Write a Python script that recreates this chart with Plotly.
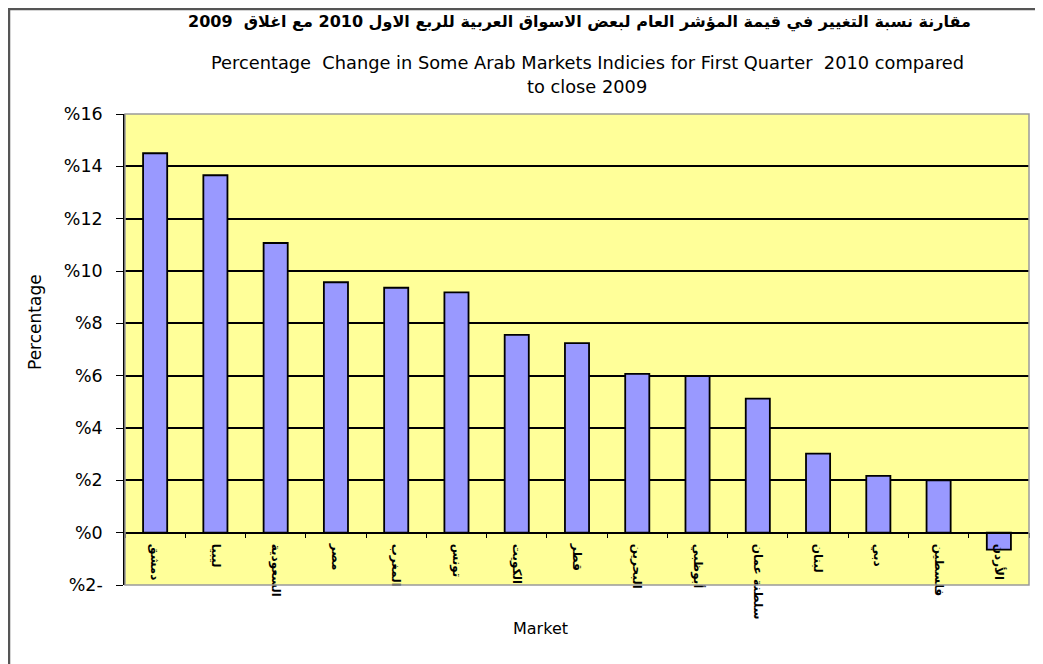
import plotly.graph_objects as go

markets = ["دمشق", "ليبيا", "السعودية", "مصر", "المغرب", "تونس", "الكويت", "قطر",
           "البحرين", "أبوظبي", "سلطنة عمان", "لبنان", "دبي", "فلسطين", "الأردن"]
pct_change = [14.5, 13.66, 11.07, 9.57, 9.36, 9.18, 7.56, 7.24,
              6.07, 5.98, 5.12, 3.02, 2.17, 2.0, -0.65]
y_tick_vals = [-2, 0, 2, 4, 6, 8, 10, 12, 14, 16]
y_tick_text = ["%2-", "%0", "%2", "%4", "%6", "%8", "%10", "%12", "%14", "%16"]

title_ar = "مقارنة نسبة التغيير في قيمة المؤشر العام لبعض الاسواق العربية للربع الاول 2010 مع اغلاق  2009"
title_en1 = "Percentage  Change in Some Arab Markets Indicies for First Quarter  2010 compared"
title_en2 = "to close 2009"

FONT = "DejaVu Sans, Liberation Sans, Arial, sans-serif"
y_min, y_max = -2, 16

# page has an 8px body margin, so the figure starts at (8, 8)
W, H = 1035, 656
L, R, T, B = 117, 14, 106, 79
PW, PH = W - L - R, H - T - B


def px_x(page_x):
    return (page_x - 8 - L) / PW


def px_y(page_y):
    return 1 - (page_y - 8 - T) / PH


fig = go.Figure()
fig.add_trace(go.Bar(
    x=markets, y=pct_change,
    marker=dict(color="#9999FF", line=dict(color="#000000", width=1.8)),
    width=0.4,
    showlegend=False,
))

zero_pos = (0 - y_min) / (y_max - y_min)

fig.update_layout(
    width=W, height=H,
    margin=dict(l=L, r=R, t=T, b=B),
    paper_bgcolor="white",
    plot_bgcolor="#FFFF99",
    font=dict(family=FONT, color="#000000"),
    xaxis=dict(
        type="category",
        anchor="free", position=zero_pos,
        showline=True, linecolor="#000000", linewidth=1.5,
        ticks="outside", tickson="boundaries", ticklen=5, tickcolor="#000000", tickwidth=1.2,
        tickangle=90,
        tickfont=dict(size=12, family=FONT, color="#000000", weight="bold"),
        ticklabelstandoff=8,
        showgrid=False, zeroline=False,
        range=[-0.5, len(markets) - 0.5],
    ),
    yaxis=dict(
        range=[y_min, y_max],
        tickvals=y_tick_vals, ticktext=y_tick_text,
        tickfont=dict(size=17.5, family=FONT, color="#000000"),
        ticks="outside", ticklen=7, tickcolor="#000000", tickwidth=1.2,
        ticklabelstandoff=10,
        showline=True, linecolor="#000000", linewidth=1.5,
        showgrid=True, gridcolor="#000000", gridwidth=1.7,
        zeroline=False,
    ),
    shapes=[
        dict(type="rect", xref="paper", yref="paper", x0=0, x1=1, y0=0, y1=1,
             line=dict(color="#9a9a9a", width=1.5), layer="above"),
        dict(type="rect", xref="paper", yref="paper",
             x0=px_x(9), x1=px_x(1070), y0=px_y(700), y1=px_y(9),
             line=dict(color="#555555", width=2.5), layer="below"),
    ],
    annotations=[
        dict(text=title_ar, xref="paper", yref="paper", x=px_x(579), y=px_y(22),
             showarrow=False, font=dict(size=16, family=FONT, weight="bold"), yanchor="middle"),
        dict(text=title_en1, xref="paper", yref="paper", x=px_x(587), y=px_y(62),
             showarrow=False, font=dict(size=17.8, family=FONT), yanchor="middle"),
        dict(text=title_en2, xref="paper", yref="paper", x=px_x(587), y=px_y(86),
             showarrow=False, font=dict(size=17.8, family=FONT), yanchor="middle"),
        dict(text="Market", xref="paper", yref="paper", x=px_x(540), y=px_y(628),
             showarrow=False, font=dict(size=16, family=FONT), yanchor="middle"),
        dict(text="Percentage", xref="paper", yref="paper", x=px_x(35), y=px_y(322),
             showarrow=False, font=dict(size=17, family=FONT), textangle=-90,
             xanchor="center", yanchor="middle"),
    ],
)

fig.write_html("out.html")
